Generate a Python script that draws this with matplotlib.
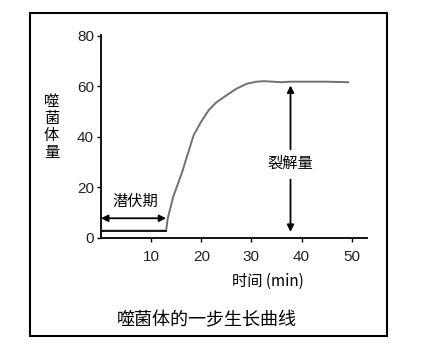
import matplotlib
matplotlib.use("Agg")
import matplotlib.pyplot as plt
from matplotlib.patches import Rectangle

plt.rcParams['font.family'] = ['Noto Sans CJK SC', 'DejaVu Sans']

time_min = [0, 13, 13.3, 14.4, 16.1, 18.5, 20.0, 21.5, 23.0, 25.1, 27.0, 29.1, 31.0, 32.5, 36, 37.5, 40, 45, 49.3]
phage = [2.8, 2.8, 7.5, 16.2, 25.5, 40.7, 46.0, 50.6, 53.6, 56.5, 59.0, 61.0, 61.8, 62.0, 61.6, 61.8, 61.8, 61.8, 61.6]
x_ticks = [10, 20, 30, 40, 50]
y_ticks = [0, 20, 40, 60, 80]
latent_end = 13
latent_arrow_y = 7.7
burst_x = 37.8
burst_top = 61.8
burst_bottom = 0
title = "噬菌体的一步生长曲线"
xlabel = "时间 (min)"
ylabel = "噬\n菌\n体\n量"

fig = plt.figure(figsize=(4.23, 3.52), dpi=100)
fig.patch.set_facecolor('white')
ax = fig.add_axes([101/423, 1-237.7/352, (366.7-101)/423, (237.7-35)/352])

ax.plot(time_min, phage, color='#707070', lw=1.4)
ax.plot([0, latent_end], [2.8, 2.8], color='black', lw=1.2)

ax.set_xlim(0, 53)
ax.set_ylim(0, 80.3)
for s in ['top', 'right']:
    ax.spines[s].set_visible(False)
ax.spines['left'].set_linewidth(1.3)
ax.spines['bottom'].set_linewidth(1.3)
ax.set_xticks(x_ticks)
ax.set_yticks(y_ticks)
ax.tick_params(direction='out', length=3, width=1, labelsize=11, colors='black')
ax.tick_params(axis='x', pad=6)
ax.tick_params(axis='y', pad=2)
for lab in ax.get_xticklabels() + ax.get_yticklabels():
    lab.set_color('#222222')
    lab.set_family(['Liberation Sans', 'DejaVu Sans'])

# latent period arrow
ax.annotate('', xy=(0, latent_arrow_y), xytext=(latent_end, latent_arrow_y),
            arrowprops=dict(arrowstyle='<|-|>', color='black', lw=1.3,
                            mutation_scale=10, shrinkA=0, shrinkB=0))
ax.text(6.8, 14.2, '潜伏期', ha='center', va='center', fontsize=11)

# burst size arrows
ax.annotate('', xy=(burst_x, burst_top - 1.5), xytext=(burst_x, 35),
            arrowprops=dict(arrowstyle='-|>', color='black', lw=1.3,
                            mutation_scale=10, shrinkA=0, shrinkB=0))
ax.annotate('', xy=(burst_x, burst_bottom + 2.3), xytext=(burst_x, 23),
            arrowprops=dict(arrowstyle='-|>', color='black', lw=1.3,
                            mutation_scale=10, shrinkA=0, shrinkB=0))
ax.text(burst_x, 29.5, '裂解量', ha='center', va='center', fontsize=11)

fig.text(268/423, 1-281/352, xlabel, ha='center', va='center', fontsize=11)
fig.text(51.5/423, 1-127/352, ylabel, ha='center', va='center', fontsize=11,
         linespacing=1.0)
fig.text(207/423, 1-320/352, title, ha='center', va='center', fontsize=13)

fig.patches.append(Rectangle((29.5/423, 1-336/352), (386.7-29.5)/423, (336-12.7)/352,
                             transform=fig.transFigure, fill=False,
                             edgecolor='black', lw=1.5))

fig.savefig('out.png', dpi=100)
